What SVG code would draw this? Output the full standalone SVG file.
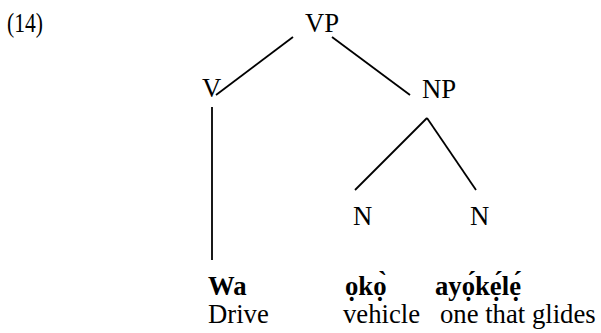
<svg xmlns="http://www.w3.org/2000/svg" width="601" height="333" viewBox="0 0 601 333">
  <style>
    text { font-family: "Liberation Serif", "Times New Roman", serif; font-size: 26.7px; fill: #000; }
    .b { font-weight: bold; }
    .edge { stroke: #000; stroke-width: 1.8; fill: none; stroke-linecap: butt; }
  </style>
  <rect width="601" height="333" fill="#fff"/>
  <!-- example number -->
  <text x="7" y="32" textLength="36" lengthAdjust="spacingAndGlyphs">(14)</text>

  <g id="connectors">
    <line class="edge" x1="293" y1="37" x2="216" y2="95"/>
    <line class="edge" x1="332" y1="37" x2="410" y2="95"/>
    <line class="edge" x1="212" y1="107" x2="212" y2="260"/>
    <line class="edge" x1="427" y1="118" x2="355" y2="190"/>
    <line class="edge" x1="427" y1="118" x2="476" y2="190"/>
  </g>

  <g id="vp"><text x="305" y="32">VP</text></g>
  <g id="v"><text x="202" y="97">V</text></g>
  <g id="np"><text x="422" y="98">NP</text></g>
  <g id="n1"><text x="353" y="225">N</text></g>
  <g id="n2"><text x="470" y="225">N</text></g>

  <g id="wa">
    <text class="b" x="208" y="295">Wa</text>
    <text x="208" y="323">Drive</text>
  </g>
  <g id="oko">
    <text class="b" x="345" y="295">ọkọ̀</text>
    <text x="343" y="323">vehicle</text>
  </g>
  <g id="ayokele">
    <text class="b" x="435" y="295">ayọ́kẹ́lẹ́</text>
    <text x="440" y="323">one that glides</text>
  </g>
</svg>
